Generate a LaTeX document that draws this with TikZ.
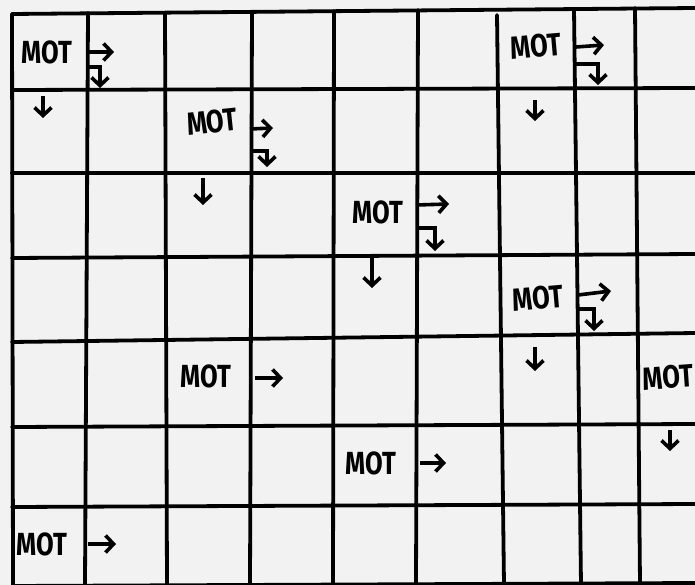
\documentclass[tikz,border=0pt]{standalone}
\usepackage{fontspec}
\usetikzlibrary{arrows.meta}
\newfontfamily\handfont[FakeStretch=0.8]{Fira Sans}
\newcommand{\mot}{\handfont\bfseries MOT}

\begin{document}
\begin{tikzpicture}[x=1pt,y=-1pt,
	grid/.style={line width=3.8pt,line cap=round},
	arr/.style={line width=3.6pt,-{Straight Barb[length=8pt,width=17pt,line width=3.6pt]}},
	word/.style={inner sep=0pt,font=\fontsize{32}{32}\selectfont}]
	\fill[black!5] (0,0) rectangle (695,585);
	\useasboundingbox (0,0) rectangle (695,585);
	\draw[grid] (12,14) -- (695,8);
	\draw[grid] (12,90) -- (695,88);
	\draw[grid] (12,173) -- (695,173);
	\draw[grid] (12,258) -- (695,254);
	\draw[grid] (12,342) -- (695,333);
	\draw[grid] (12,427) -- (695,424);
	\draw[grid] (12,507) -- (695,504);
	\draw[grid] (12,586) -- (695,583);
	\draw[grid] (12,14) -- (13,585);
	\draw[grid] (88,13) -- (85,585);
	\draw[grid] (165,13) -- (167,585);
	\draw[grid] (252,12) -- (250,585);
	\draw[grid] (334,11) -- (333,585);
	\draw[grid] (418,10) -- (416,585);
	\draw[grid] (497,15) -- (504,585);
	\draw[grid] (574,9) -- (581,585);
	\draw[grid] (635,8) -- (640,585);
	\node[word] (mot1) at (47,52) {\mot};
	\draw[arr] (88,52) -- (114,52);
	\draw[arr] (88,67) -| (100,88);
	\draw[arr] (43,96) -- (43,118);
	\node[word,rotate=6] (mot2) at (212,122) {\mot};
	\draw[arr] (250,129) -- (273,128);
	\draw[arr] (252,151) -| (267,167);
	\draw[arr] (203,178) -- (203,205);
	\node[word] (mot3) at (378,212) {\mot};
	\draw[arr] (416,205) -- (449,204);
	\draw[arr] (416,228) -| (435,251);
	\draw[arr] (372,258) -- (372,288);
	\node[word,rotate=5] (mot4) at (536,46) {\mot};
	\draw[arr] (576,47) -- (604,45);
	\draw[arr] (576,64) -| (598,85);
	\draw[arr] (535,100) -- (535,121);
	\node[word,rotate=5] (mot5) at (538,298) {\mot};
	\draw[arr] (578,295) -- (611,291);
	\draw[arr] (578,309) -| (594,331);
	\draw[arr] (535,347) -- (535,371);
	\node[word] (mot6) at (206,376) {\mot};
	\draw[arr] (255,378) -- (283,378);
	\node[word,rotate=4,anchor=west] (mot7) at (643,379) {\mot};
	\draw[arr] (670,430) -- (670,451);
	\node[word] (mot8) at (371,463) {\mot};
	\draw[arr] (420,463) -- (446,463);
	\node[word] (mot9) at (42,544) {\mot};
	\draw[arr] (88,544) -- (116,544);
\end{tikzpicture}
\end{document}
